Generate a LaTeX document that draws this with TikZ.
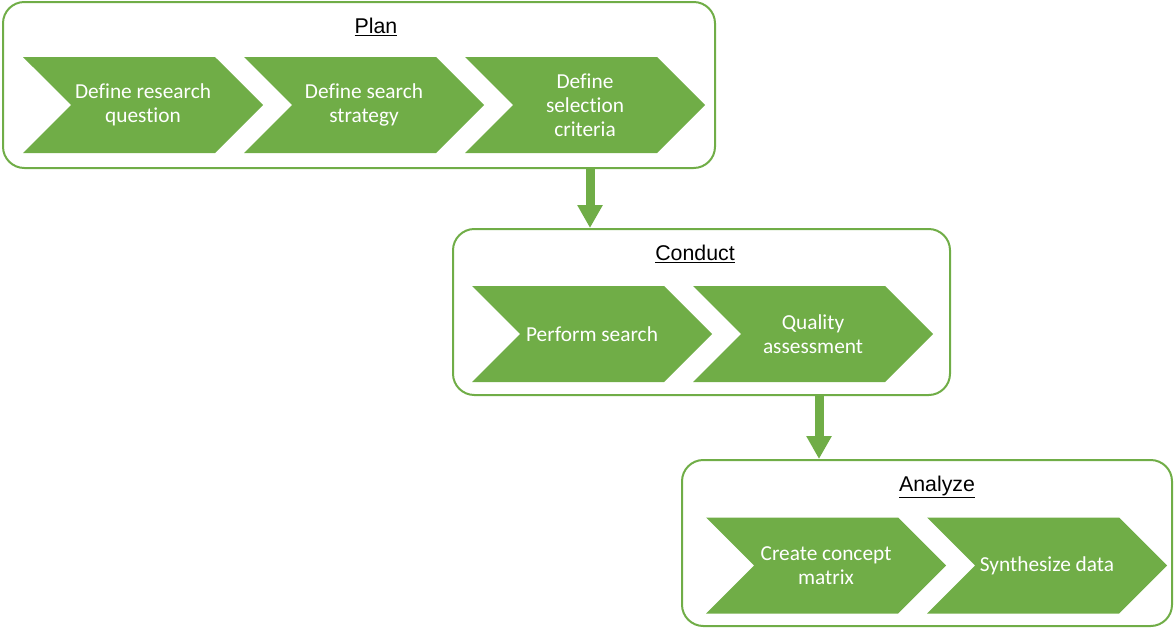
\documentclass[tikz,border=0pt]{standalone}
\usepackage{fontspec}
\setmainfont{Carlito}[Ligatures=NoCommon]
\newfontfamily\headfont{Liberation Sans}
\usetikzlibrary{shapes.symbols, arrows.meta, positioning, fit}
\definecolor{verdeEtapa}{HTML}{70AD47}

\begin{document}
\begin{tikzpicture}[x=0.75pt, y=-0.75pt,
        stage/.style={draw=verdeEtapa, line width=1.5pt, rounded corners=16pt, inner sep=0pt},
        head/.style={font=\headfont\fontsize{16}{19}\selectfont},
        chev/.style={signal, signal from=west, signal to=east, fill=verdeEtapa, text=white,
            minimum width=180pt, minimum height=72pt, inner sep=0pt, align=center,
            font=\fontsize{16}{18}\selectfont},
        flow/.style={verdeEtapa, line width=6.75pt, -{Triangle[length=17.25pt, width=18pt]}},
        node distance=165.75pt, on grid
    ]
        \useasboundingbox (0,0) rectangle (1174,628);

        % stage frames
        \node[stage, fit={(3,2) (715,168)}] (plan) {};
        \node[stage, fit={(453,229) (950,395)}] (conduct) {};
        \node[stage, fit={(682,460) (1172,626)}] (analyze) {};

        \node[head] (tplan) at (376,27) {\underline{Plan}};
        \node[head] (tconduct) at (695,254) {\underline{Conduct}};
        \node[head] (tanalyze) at (937,487) {\underline{Analyze}};

        % plan
        \node[chev] (rq) at (143,105) {Define research\\question};
        \node[chev, right=of rq] (ss) {Define search\\strategy};
        \node[chev, right=of ss] (sc) {Define\\selection\\criteria};

        % conduct
        \node[chev] (ps) at (592,334) {Perform search};
        \node[chev, right=of ps] (qa) {Quality\\assessment};

        % analyze
        \node[chev] (cm) at (826,565.5) {Create concept\\matrix};
        \node[chev, right=of cm] (sd) {Synthesize data};

        \draw[flow] ([xshift=173.25pt]plan.south) -- ([xshift=173.25pt]plan.south |- conduct.north);
        \draw[flow] ([xshift=88.125pt]conduct.south) -- ([xshift=88.125pt]conduct.south |- analyze.north);
    \end{tikzpicture}
\end{document}
